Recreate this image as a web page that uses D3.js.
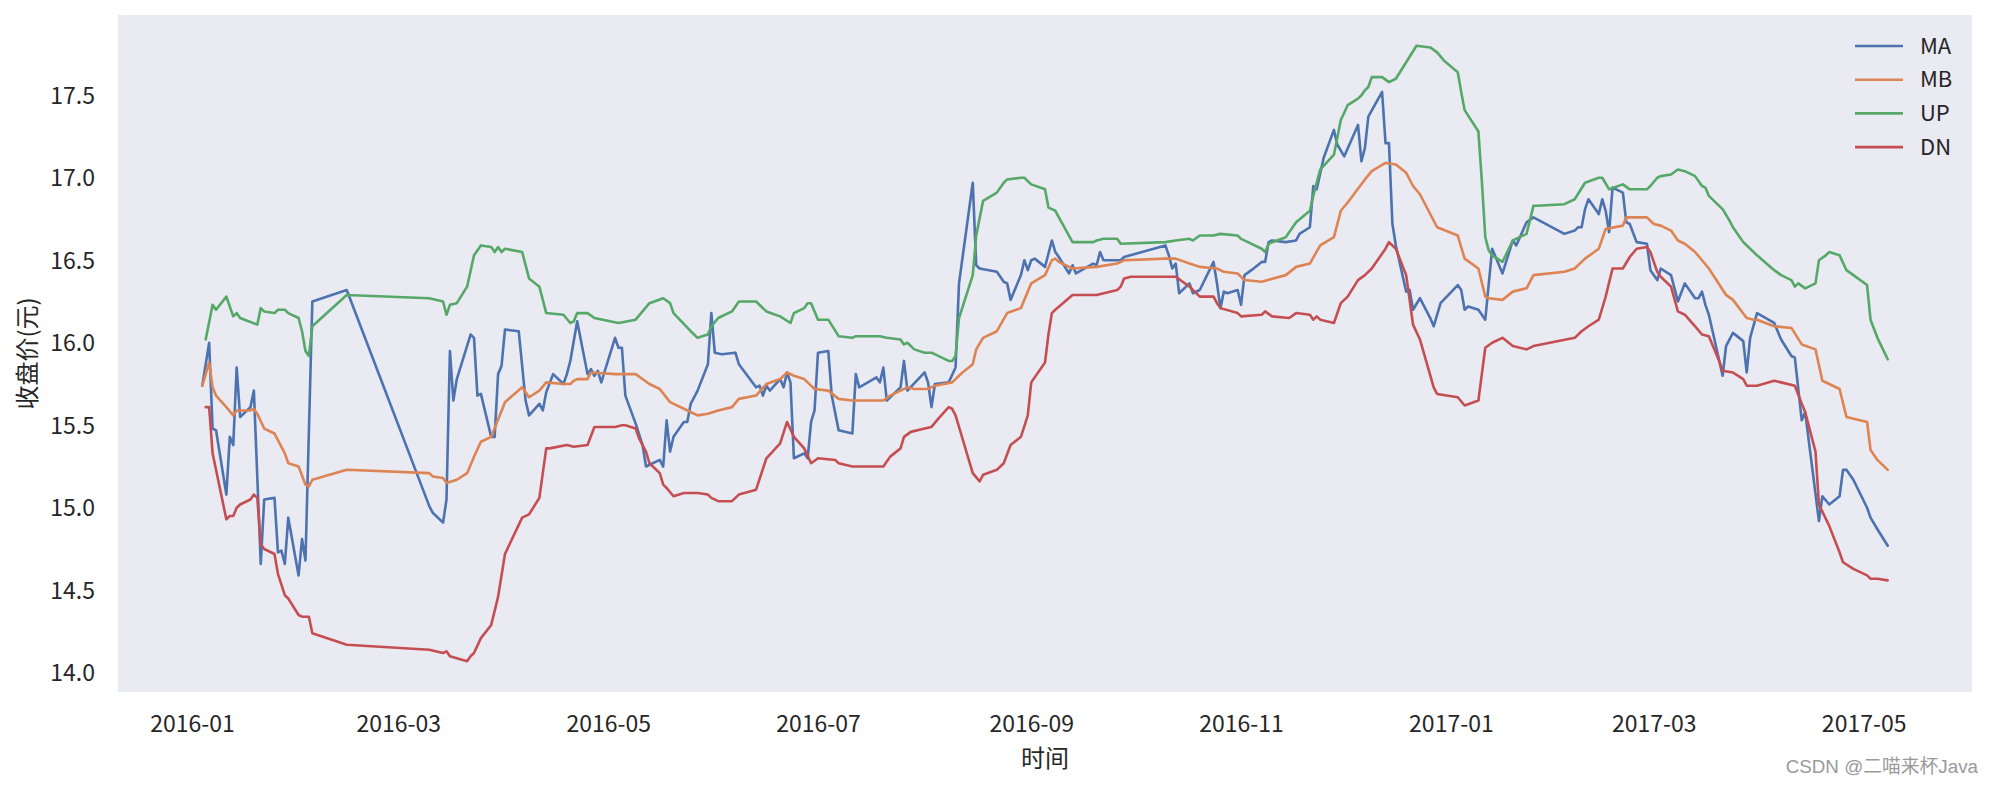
<!DOCTYPE html>
<html>
<head>
<meta charset="utf-8">
<script src="https://cdn.jsdelivr.net/npm/d3@7"></script>
<style>
  html, body { margin: 0; padding: 0; background: #ffffff; }
  svg { display: block; }
  text { font-family: "Noto Sans CJK SC", "Noto Sans", sans-serif; fill: #262626; }
</style>
</head>
<body>
<svg id="chart" width="1991" height="785"></svg>
<script>
// ---------------- data ----------------
const seriesNames = ["MA", "MB", "UP", "DN"];
const seriesColors = ["#4C72B0", "#DD8452", "#55A868", "#C44E52"];
const xTickLabels = ["2016-01","2016-03","2016-05","2016-07","2016-09","2016-11","2017-01","2017-03","2017-05"];
const yTickLabels = ["14.0","14.5","15.0","15.5","16.0","16.5","17.0","17.5"];
const xTitle = "时间";
const yTitle = "收盘价(元)";
const watermark = "CSDN @二喵来杯Java";

const MA = [
["2016-01-04",15.74],["2016-01-06",16.00],["2016-01-07",15.48],["2016-01-08",15.47],["2016-01-11",15.08],
["2016-01-12",15.43],["2016-01-13",15.38],["2016-01-14",15.85],["2016-01-15",15.55],["2016-01-18",15.61],
["2016-01-19",15.71],["2016-01-21",14.66],["2016-01-22",15.05],["2016-01-25",15.06],["2016-01-26",14.73],
["2016-01-27",14.74],["2016-01-28",14.66],["2016-01-29",14.94],["2016-02-01",14.59],["2016-02-02",14.81],
["2016-02-03",14.68],["2016-02-05",16.25],["2016-02-15",16.32],["2016-03-10",15.01],["2016-03-11",14.97],
["2016-03-14",14.91],["2016-03-15",15.05],["2016-03-16",15.95],["2016-03-17",15.65],["2016-03-18",15.78],
["2016-03-22",16.05],["2016-03-23",16.03],["2016-03-24",15.68],["2016-03-25",15.69],["2016-03-28",15.43],
["2016-03-29",15.43],["2016-03-30",15.81],["2016-03-31",15.86],["2016-04-01",16.08],["2016-04-05",16.07],
["2016-04-07",15.65],["2016-04-08",15.56],["2016-04-11",15.63],["2016-04-12",15.59],["2016-04-13",15.70],
["2016-04-15",15.81],["2016-04-18",15.75],["2016-04-19",15.81],["2016-04-20",15.89],["2016-04-22",16.13],
["2016-04-25",15.81],["2016-04-26",15.84],["2016-04-27",15.80],["2016-04-28",15.83],["2016-04-29",15.76],
["2016-05-03",16.03],["2016-05-04",15.97],["2016-05-05",15.97],["2016-05-06",15.68],["2016-05-09",15.51],
["2016-05-11",15.38],["2016-05-12",15.25],["2016-05-16",15.29],["2016-05-17",15.25],["2016-05-18",15.53],
["2016-05-19",15.34],["2016-05-20",15.43],["2016-05-23",15.52],["2016-05-24",15.52],["2016-05-25",15.63],
["2016-05-27",15.71],["2016-05-30",15.87],["2016-05-31",16.18],["2016-06-01",15.94],["2016-06-03",15.93],
["2016-06-07",15.94],["2016-06-08",15.87],["2016-06-13",15.73],["2016-06-14",15.74],["2016-06-15",15.68],
["2016-06-16",15.74],["2016-06-17",15.71],["2016-06-20",15.78],["2016-06-21",15.73],["2016-06-22",15.82],
["2016-06-23",15.76],["2016-06-24",15.30],["2016-06-27",15.33],["2016-06-28",15.30],["2016-06-29",15.52],
["2016-06-30",15.59],["2016-07-01",15.94],["2016-07-04",15.95],["2016-07-05",15.68],["2016-07-07",15.47],
["2016-07-11",15.45],["2016-07-12",15.81],["2016-07-13",15.73],["2016-07-18",15.79],["2016-07-19",15.76],
["2016-07-20",15.85],["2016-07-21",15.65],["2016-07-25",15.73],["2016-07-26",15.89],["2016-07-27",15.71],
["2016-08-01",15.82],["2016-08-02",15.76],["2016-08-03",15.61],["2016-08-04",15.75],["2016-08-08",15.76],
["2016-08-10",15.85],["2016-08-11",16.36],["2016-08-15",16.97],["2016-08-16",16.47],["2016-08-17",16.45],
["2016-08-22",16.43],["2016-08-23",16.40],["2016-08-24",16.37],["2016-08-25",16.36],["2016-08-26",16.26],
["2016-08-29",16.41],["2016-08-30",16.50],["2016-08-31",16.44],["2016-09-01",16.50],["2016-09-02",16.51],
["2016-09-05",16.46],["2016-09-07",16.62],["2016-09-08",16.55],["2016-09-09",16.52],["2016-09-12",16.42],
["2016-09-13",16.47],["2016-09-14",16.42],["2016-09-19",16.48],["2016-09-20",16.47],["2016-09-21",16.55],
["2016-09-22",16.50],["2016-09-27",16.50],["2016-09-28",16.52],["2016-10-10",16.59],["2016-10-11",16.53],
["2016-10-12",16.45],["2016-10-13",16.48],["2016-10-14",16.30],["2016-10-17",16.36],["2016-10-18",16.30],
["2016-10-20",16.32],["2016-10-24",16.49],["2016-10-25",16.36],["2016-10-26",16.21],["2016-10-27",16.31],
["2016-10-28",16.30],["2016-10-31",16.32],["2016-11-01",16.23],["2016-11-02",16.41],["2016-11-04",16.44],
["2016-11-07",16.49],["2016-11-08",16.49],["2016-11-09",16.61],["2016-11-10",16.62],["2016-11-14",16.61],
["2016-11-17",16.62],["2016-11-18",16.66],["2016-11-21",16.70],["2016-11-22",16.95],["2016-11-23",16.93],
["2016-11-25",17.12],["2016-11-28",17.29],["2016-11-29",17.20],["2016-12-01",17.13],["2016-12-05",17.32],
["2016-12-06",17.10],["2016-12-07",17.18],["2016-12-08",17.37],["2016-12-12",17.52],["2016-12-13",17.21],
["2016-12-14",17.21],["2016-12-15",16.72],["2016-12-16",16.59],["2016-12-19",16.31],["2016-12-20",16.32],
["2016-12-21",16.20],["2016-12-23",16.27],["2016-12-26",16.15],["2016-12-27",16.10],["2016-12-29",16.24],
["2017-01-03",16.35],["2017-01-04",16.32],["2017-01-05",16.20],["2017-01-06",16.22],["2017-01-09",16.20],
["2017-01-11",16.14],["2017-01-13",16.57],["2017-01-16",16.42],["2017-01-19",16.62],["2017-01-20",16.59],
["2017-01-23",16.73],["2017-01-25",16.76],["2017-02-03",16.66],["2017-02-06",16.68],["2017-02-07",16.70],
["2017-02-08",16.70],["2017-02-09",16.81],["2017-02-10",16.87],["2017-02-13",16.78],["2017-02-14",16.87],
["2017-02-15",16.80],["2017-02-16",16.67],["2017-02-17",16.94],["2017-02-20",16.91],["2017-02-21",16.73],
["2017-02-22",16.72],["2017-02-24",16.61],["2017-02-27",16.60],["2017-02-28",16.44],["2017-03-02",16.38],
["2017-03-03",16.45],["2017-03-06",16.41],["2017-03-08",16.25],["2017-03-10",16.36],["2017-03-13",16.27],
["2017-03-14",16.27],["2017-03-15",16.31],["2017-03-16",16.23],["2017-03-17",16.17],["2017-03-21",15.80],
["2017-03-22",15.98],["2017-03-24",16.06],["2017-03-27",16.01],["2017-03-28",15.82],["2017-03-29",16.03],
["2017-03-31",16.18],["2017-04-05",16.12],["2017-04-07",16.02],["2017-04-10",15.92],["2017-04-11",15.91],
["2017-04-13",15.53],["2017-04-14",15.58],["2017-04-18",14.92],["2017-04-19",15.07],["2017-04-21",15.02],
["2017-04-24",15.07],["2017-04-25",15.23],["2017-04-26",15.23],["2017-04-28",15.17],["2017-05-02",15.00],
["2017-05-03",14.94],["2017-05-05",14.87],["2017-05-08",14.77]
];

const MB = [
["2016-01-04",15.74],["2016-01-06",15.88],["2016-01-07",15.73],["2016-01-08",15.68],["2016-01-11",15.61],
["2016-01-13",15.56],["2016-01-14",15.59],["2016-01-18",15.59],["2016-01-19",15.60],["2016-01-20",15.57],
["2016-01-22",15.48],["2016-01-25",15.45],["2016-01-28",15.33],["2016-01-29",15.27],["2016-02-01",15.25],
["2016-02-03",15.14],["2016-02-04",15.13],["2016-02-05",15.17],["2016-02-15",15.23],["2016-03-10",15.21],
["2016-03-11",15.19],["2016-03-14",15.18],["2016-03-15",15.15],["2016-03-18",15.17],["2016-03-21",15.21],
["2016-03-23",15.31],["2016-03-25",15.40],["2016-03-28",15.43],["2016-04-01",15.64],["2016-04-06",15.73],
["2016-04-08",15.67],["2016-04-11",15.71],["2016-04-13",15.76],["2016-04-18",15.75],["2016-04-20",15.75],
["2016-04-21",15.77],["2016-04-22",15.78],["2016-04-25",15.78],["2016-04-26",15.82],["2016-05-03",15.81],
["2016-05-09",15.81],["2016-05-13",15.75],["2016-05-16",15.72],["2016-05-19",15.64],["2016-05-23",15.60],
["2016-05-27",15.56],["2016-05-30",15.57],["2016-06-02",15.59],["2016-06-06",15.61],["2016-06-08",15.66],
["2016-06-13",15.68],["2016-06-16",15.75],["2016-06-20",15.78],["2016-06-22",15.82],["2016-06-24",15.80],
["2016-06-27",15.78],["2016-06-30",15.72],["2016-07-04",15.71],["2016-07-07",15.66],["2016-07-11",15.65],
["2016-07-20",15.65],["2016-07-22",15.68],["2016-07-27",15.73],["2016-07-29",15.72],["2016-08-02",15.72],
["2016-08-04",15.74],["2016-08-09",15.76],["2016-08-12",15.82],["2016-08-15",15.87],["2016-08-16",15.96],
["2016-08-18",16.03],["2016-08-22",16.07],["2016-08-25",16.18],["2016-08-29",16.21],["2016-09-01",16.36],
["2016-09-05",16.41],["2016-09-07",16.50],["2016-09-08",16.51],["2016-09-09",16.49],["2016-09-13",16.45],
["2016-09-20",16.46],["2016-09-26",16.48],["2016-09-28",16.50],["2016-10-10",16.51],["2016-10-13",16.51],
["2016-10-17",16.48],["2016-10-20",16.46],["2016-10-25",16.45],["2016-10-27",16.43],["2016-10-31",16.42],
["2016-11-02",16.38],["2016-11-07",16.37],["2016-11-14",16.41],["2016-11-17",16.46],["2016-11-21",16.48],
["2016-11-24",16.59],["2016-11-28",16.64],["2016-11-30",16.80],["2016-12-02",16.85],["2016-12-07",16.99],
["2016-12-09",17.04],["2016-12-13",17.09],["2016-12-16",17.08],["2016-12-19",17.03],["2016-12-21",16.95],
["2016-12-23",16.90],["2016-12-28",16.70],["2017-01-03",16.65],["2017-01-05",16.51],["2017-01-09",16.45],
["2017-01-11",16.28],["2017-01-12",16.27],["2017-01-16",16.26],["2017-01-19",16.31],["2017-01-23",16.33],
["2017-01-25",16.41],["2017-02-03",16.43],["2017-02-06",16.45],["2017-02-09",16.51],["2017-02-13",16.57],
["2017-02-15",16.69],["2017-02-20",16.71],["2017-02-21",16.76],["2017-02-27",16.76],["2017-03-01",16.72],
["2017-03-03",16.71],["2017-03-06",16.68],["2017-03-08",16.62],["2017-03-10",16.60],["2017-03-13",16.55],
["2017-03-15",16.50],["2017-03-17",16.45],["2017-03-22",16.29],["2017-03-24",16.26],["2017-03-28",16.15],
["2017-03-30",16.14],["2017-03-31",16.14],["2017-04-05",16.10],["2017-04-10",16.09],["2017-04-13",15.99],
["2017-04-17",15.96],["2017-04-19",15.77],["2017-04-24",15.72],["2017-04-26",15.55],["2017-05-02",15.52],
["2017-05-03",15.35],["2017-05-05",15.29],["2017-05-08",15.23]
];

const UP = [
["2016-01-05",16.02],["2016-01-07",16.23],["2016-01-08",16.20],["2016-01-11",16.28],["2016-01-13",16.16],
["2016-01-14",16.18],["2016-01-15",16.15],["2016-01-20",16.11],["2016-01-21",16.21],["2016-01-22",16.19],
["2016-01-25",16.18],["2016-01-26",16.20],["2016-01-28",16.20],["2016-01-29",16.18],["2016-02-01",16.15],
["2016-02-02",16.07],["2016-02-03",15.95],["2016-02-04",15.92],["2016-02-05",16.10],["2016-02-15",16.29],
["2016-03-10",16.27],["2016-03-14",16.25],["2016-03-15",16.17],["2016-03-16",16.23],["2016-03-18",16.24],
["2016-03-21",16.34],["2016-03-23",16.53],["2016-03-25",16.59],["2016-03-28",16.58],["2016-03-29",16.55],
["2016-03-30",16.58],["2016-03-31",16.55],["2016-04-01",16.57],["2016-04-06",16.55],["2016-04-08",16.39],
["2016-04-11",16.34],["2016-04-13",16.18],["2016-04-18",16.17],["2016-04-20",16.12],["2016-04-21",16.13],
["2016-04-22",16.18],["2016-04-25",16.18],["2016-04-27",16.15],["2016-05-04",16.12],["2016-05-09",16.14],
["2016-05-11",16.19],["2016-05-13",16.24],["2016-05-17",16.27],["2016-05-19",16.24],["2016-05-20",16.18],
["2016-05-25",16.07],["2016-05-27",16.03],["2016-05-30",16.05],["2016-05-31",16.10],["2016-06-02",16.15],
["2016-06-06",16.19],["2016-06-08",16.25],["2016-06-13",16.25],["2016-06-16",16.19],["2016-06-20",16.16],
["2016-06-23",16.12],["2016-06-24",16.18],["2016-06-27",16.21],["2016-06-28",16.24],["2016-06-29",16.24],
["2016-07-01",16.14],["2016-07-04",16.14],["2016-07-07",16.04],["2016-07-11",16.03],["2016-07-12",16.04],
["2016-07-19",16.04],["2016-07-21",16.03],["2016-07-25",16.02],["2016-07-26",15.99],["2016-07-27",16.00],
["2016-07-29",15.96],["2016-08-01",15.94],["2016-08-03",15.94],["2016-08-08",15.89],["2016-08-09",15.89],
["2016-08-10",15.92],["2016-08-11",16.15],["2016-08-15",16.41],["2016-08-16",16.65],["2016-08-18",16.86],
["2016-08-22",16.91],["2016-08-24",16.97],["2016-08-25",16.99],["2016-08-29",17.00],["2016-08-30",17.00],
["2016-09-01",16.96],["2016-09-05",16.93],["2016-09-06",16.82],["2016-09-07",16.81],["2016-09-08",16.80],
["2016-09-13",16.61],["2016-09-19",16.61],["2016-09-20",16.62],["2016-09-22",16.63],["2016-09-26",16.63],
["2016-09-27",16.60],["2016-10-10",16.61],["2016-10-13",16.62],["2016-10-17",16.63],["2016-10-18",16.62],
["2016-10-20",16.65],["2016-10-24",16.65],["2016-10-26",16.66],["2016-10-31",16.65],["2016-11-01",16.63],
["2016-11-03",16.61],["2016-11-07",16.57],["2016-11-08",16.55],["2016-11-09",16.60],["2016-11-14",16.64],
["2016-11-17",16.73],["2016-11-21",16.80],["2016-11-22",16.89],["2016-11-24",17.05],["2016-11-28",17.14],
["2016-11-30",17.35],["2016-12-02",17.44],["2016-12-05",17.48],["2016-12-06",17.50],["2016-12-07",17.53],
["2016-12-08",17.55],["2016-12-09",17.61],["2016-12-12",17.61],["2016-12-14",17.58],["2016-12-16",17.60],
["2016-12-19",17.70],["2016-12-22",17.80],["2016-12-26",17.79],["2016-12-28",17.76],["2016-12-30",17.71],
["2017-01-03",17.64],["2017-01-04",17.52],["2017-01-05",17.41],["2017-01-09",17.28],["2017-01-10",16.98],
["2017-01-11",16.64],["2017-01-12",16.56],["2017-01-13",16.53],["2017-01-16",16.49],["2017-01-19",16.62],
["2017-01-23",16.66],["2017-01-25",16.83],["2017-01-26",16.83],["2017-02-03",16.84],["2017-02-06",16.87],
["2017-02-09",16.97],["2017-02-13",17.00],["2017-02-14",17.00],["2017-02-16",16.93],["2017-02-20",16.96],
["2017-02-22",16.93],["2017-02-27",16.93],["2017-02-28",16.95],["2017-03-02",17.00],["2017-03-03",17.01],
["2017-03-06",17.02],["2017-03-08",17.05],["2017-03-10",17.04],["2017-03-13",17.01],["2017-03-15",16.95],
["2017-03-16",16.94],["2017-03-17",16.89],["2017-03-20",16.83],["2017-03-21",16.81],["2017-03-23",16.74],
["2017-03-24",16.70],["2017-03-27",16.61],["2017-03-29",16.57],["2017-03-31",16.53],["2017-04-05",16.44],
["2017-04-07",16.41],["2017-04-10",16.38],["2017-04-11",16.34],["2017-04-12",16.36],["2017-04-14",16.33],
["2017-04-17",16.36],["2017-04-18",16.50],["2017-04-20",16.53],["2017-04-21",16.55],["2017-04-24",16.53],
["2017-04-26",16.44],["2017-04-28",16.41],["2017-05-02",16.35],["2017-05-03",16.14],["2017-05-05",16.03],
["2017-05-08",15.90]
];

const DN = [
["2016-01-05",15.61],["2016-01-06",15.61],["2016-01-07",15.33],["2016-01-11",14.93],["2016-01-12",14.95],
["2016-01-13",14.95],["2016-01-14",15.00],["2016-01-15",15.02],["2016-01-18",15.05],["2016-01-19",15.08],
["2016-01-20",15.06],["2016-01-21",14.78],["2016-01-22",14.75],["2016-01-25",14.72],["2016-01-26",14.60],
["2016-01-28",14.47],["2016-01-29",14.45],["2016-02-01",14.35],["2016-02-02",14.34],["2016-02-04",14.34],
["2016-02-05",14.24],["2016-02-15",14.17],["2016-03-10",14.14],["2016-03-14",14.12],["2016-03-15",14.13],
["2016-03-16",14.10],["2016-03-21",14.07],["2016-03-22",14.10],["2016-03-23",14.12],["2016-03-25",14.21],
["2016-03-28",14.29],["2016-03-30",14.46],["2016-04-01",14.72],["2016-04-06",14.94],["2016-04-08",14.96],
["2016-04-11",15.06],["2016-04-13",15.36],["2016-04-14",15.36],["2016-04-19",15.38],["2016-04-21",15.37],
["2016-04-25",15.38],["2016-04-27",15.49],["2016-05-03",15.49],["2016-05-05",15.50],["2016-05-06",15.50],
["2016-05-09",15.48],["2016-05-10",15.42],["2016-05-12",15.34],["2016-05-13",15.27],["2016-05-16",15.21],
["2016-05-17",15.14],["2016-05-18",15.12],["2016-05-20",15.07],["2016-05-23",15.09],["2016-05-27",15.09],
["2016-05-30",15.08],["2016-05-31",15.06],["2016-06-02",15.04],["2016-06-06",15.04],["2016-06-08",15.08],
["2016-06-13",15.11],["2016-06-16",15.30],["2016-06-20",15.39],["2016-06-22",15.52],["2016-06-24",15.43],
["2016-06-27",15.36],["2016-06-29",15.27],["2016-07-01",15.30],["2016-07-06",15.29],["2016-07-07",15.27],
["2016-07-11",15.25],["2016-07-20",15.25],["2016-07-22",15.31],["2016-07-25",15.36],["2016-07-26",15.43],
["2016-07-28",15.46],["2016-08-01",15.48],["2016-08-03",15.49],["2016-08-05",15.54],["2016-08-08",15.61],
["2016-08-09",15.60],["2016-08-10",15.56],["2016-08-15",15.21],["2016-08-17",15.16],["2016-08-18",15.20],
["2016-08-22",15.23],["2016-08-24",15.27],["2016-08-26",15.38],["2016-08-29",15.43],["2016-08-31",15.56],
["2016-09-01",15.76],["2016-09-05",15.88],["2016-09-06",16.05],["2016-09-07",16.18],["2016-09-08",16.20],
["2016-09-13",16.29],["2016-09-20",16.29],["2016-09-26",16.32],["2016-09-27",16.34],["2016-09-28",16.39],
["2016-09-30",16.40],["2016-10-10",16.40],["2016-10-13",16.40],["2016-10-17",16.34],["2016-10-20",16.28],
["2016-10-24",16.28],["2016-10-25",16.24],["2016-10-26",16.21],["2016-10-31",16.18],["2016-11-01",16.16],
["2016-11-07",16.17],["2016-11-08",16.19],["2016-11-10",16.16],["2016-11-15",16.15],["2016-11-17",16.18],
["2016-11-21",16.17],["2016-11-22",16.14],["2016-11-23",16.16],["2016-11-24",16.14],["2016-11-28",16.12],
["2016-11-30",16.24],["2016-12-02",16.28],["2016-12-05",16.38],["2016-12-07",16.41],["2016-12-09",16.45],
["2016-12-13",16.57],["2016-12-14",16.61],["2016-12-16",16.57],["2016-12-19",16.41],["2016-12-21",16.11],
["2016-12-23",16.02],["2016-12-27",15.73],["2016-12-28",15.69],["2017-01-03",15.67],["2017-01-05",15.62],
["2017-01-09",15.65],["2017-01-10",15.81],["2017-01-11",15.97],["2017-01-13",16.00],["2017-01-16",16.03],
["2017-01-19",15.98],["2017-01-23",15.96],["2017-01-25",15.98],["2017-02-06",16.03],["2017-02-08",16.07],
["2017-02-10",16.10],["2017-02-13",16.14],["2017-02-15",16.28],["2017-02-17",16.45],["2017-02-20",16.45],
["2017-02-22",16.52],["2017-02-24",16.57],["2017-02-27",16.58],["2017-02-28",16.55],["2017-03-02",16.43],
["2017-03-03",16.40],["2017-03-06",16.34],["2017-03-08",16.19],["2017-03-10",16.17],["2017-03-13",16.10],
["2017-03-15",16.05],["2017-03-17",16.04],["2017-03-20",15.89],["2017-03-21",15.83],["2017-03-24",15.82],
["2017-03-27",15.78],["2017-03-28",15.74],["2017-03-31",15.74],["2017-04-05",15.77],["2017-04-07",15.76],
["2017-04-11",15.74],["2017-04-13",15.63],["2017-04-14",15.58],["2017-04-17",15.34],["2017-04-18",15.02],
["2017-04-21",14.89],["2017-04-24",14.73],["2017-04-25",14.67],["2017-04-28",14.63],["2017-05-02",14.59],
["2017-05-03",14.57],["2017-05-05",14.57],["2017-05-08",14.56]
];

// ---------------- drawing ----------------
const W = 1991, H = 785;
const plot = { left: 118, right: 1972, top: 15, bottom: 692 };
const parse = d3.timeParse("%Y-%m-%d");
const allSeries = [MA, MB, UP, DN].map(s => s.map(d => ({ date: parse(d[0]), value: d[1] })));

// matplotlib-style 5% margins around data
const allPts = allSeries.flat();
const [dMin, dMax] = d3.extent(allPts, d => d.date);
const dPad = (dMax - dMin) * 0.05;
const [vMin, vMax] = d3.extent(allPts, d => d.value);
const vPad = (vMax - vMin) * 0.05;

const x = d3.scaleTime()
  .domain([new Date(+dMin - dPad), new Date(+dMax + dPad)])
  .range([plot.left, plot.right]);
const y = d3.scaleLinear()
  .domain([vMin - vPad, vMax + vPad])
  .range([plot.bottom, plot.top]);

const svg = d3.select("#chart");

svg.append("rect")
  .attr("x", plot.left).attr("y", plot.top)
  .attr("width", plot.right - plot.left).attr("height", plot.bottom - plot.top)
  .attr("fill", "#EAEAF2");

const monthParse = d3.timeParse("%Y-%m");
const fmtMonth = d3.timeFormat("%Y-%m");

// x axis
const xAxis = d3.axisBottom(x)
  .tickValues(xTickLabels.map(monthParse))
  .tickFormat(fmtMonth)
  .tickSize(0)
  .tickPadding(0);
const gx = svg.append("g").attr("transform", `translate(0,${plot.bottom})`).call(xAxis);
gx.select(".domain").remove();
gx.selectAll("text")
  .attr("y", 40)
  .attr("dy", null)
  .attr("font-size", 23)
  .attr("fill", "#262626")
  .style("font-family", '"Noto Sans CJK SC", sans-serif');

// y axis
const yAxis = d3.axisLeft(y)
  .tickValues(yTickLabels.map(Number))
  .tickFormat(d3.format(".1f"))
  .tickSize(0)
  .tickPadding(0);
const gy = svg.append("g").attr("transform", `translate(${plot.left},0)`).call(yAxis);
gy.select(".domain").remove();
gy.selectAll("text")
  .attr("x", -23)
  .attr("dy", "0.35em")
  .attr("font-size", 23)
  .attr("fill", "#262626")
  .style("font-family", '"Noto Sans CJK SC", sans-serif');

// axis titles
svg.append("text")
  .attr("x", (plot.left + plot.right) / 2)
  .attr("y", 767)
  .attr("text-anchor", "middle")
  .attr("font-size", 24)
  .text(xTitle);

svg.append("text")
  .attr("transform", `translate(36,${(plot.top + plot.bottom) / 2}) rotate(-90)`)
  .attr("text-anchor", "middle")
  .attr("font-size", 24)
  .text(yTitle);

// lines
const line = d3.line().x(d => x(d.date)).y(d => y(d.value));
svg.append("clipPath").attr("id", "plotclip")
  .append("rect")
  .attr("x", plot.left).attr("y", plot.top)
  .attr("width", plot.right - plot.left).attr("height", plot.bottom - plot.top);

svg.append("g").attr("clip-path", "url(#plotclip)")
  .selectAll("path")
  .data(allSeries)
  .join("path")
  .attr("d", line)
  .attr("fill", "none")
  .attr("stroke", (d, i) => seriesColors[i])
  .attr("stroke-width", 2.6)
  .attr("stroke-linejoin", "round")
  .attr("stroke-linecap", "round");

// legend
const lg = svg.append("g").attr("transform", "translate(1855,46)");
seriesNames.forEach((name, i) => {
  const row = lg.append("g").attr("transform", `translate(0,${i * 33.7})`);
  row.append("line")
    .attr("x1", 0).attr("x2", 48).attr("y1", 0).attr("y2", 0)
    .attr("stroke", seriesColors[i]).attr("stroke-width", 2.6);
  row.append("text")
    .attr("x", 65).attr("y", 0).attr("dy", "0.35em")
    .attr("font-size", 22)
    .text(name);
});

// watermark
svg.append("text")
  .attr("x", 1978).attr("y", 773)
  .attr("text-anchor", "end")
  .attr("font-size", 18.8)
  .style("font-family", '"Liberation Sans", "Noto Sans CJK SC", sans-serif')
  .style("fill", "#9a9a9a")
  .text(watermark);
</script>
</body>
</html>
